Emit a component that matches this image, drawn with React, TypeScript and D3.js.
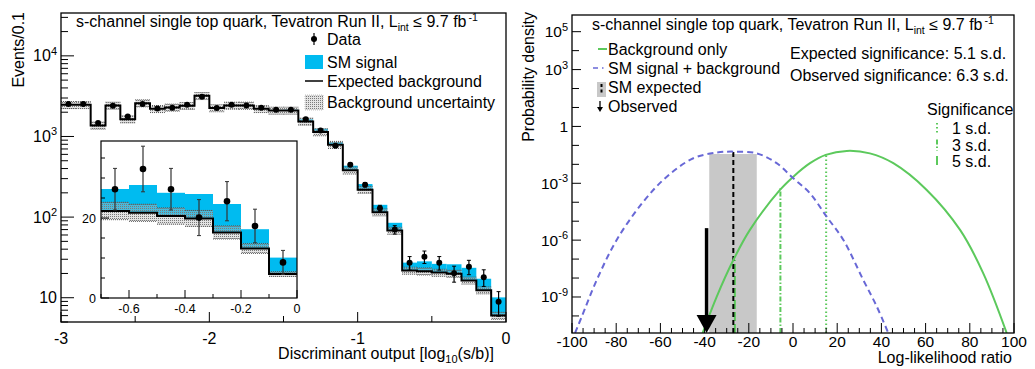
import React from 'react';
import * as d3 from 'd3';

// ---------------- Left panel data ----------------
const binLow = [-3.0, -2.9, -2.8, -2.7, -2.6, -2.5, -2.4, -2.3, -2.2, -2.1, -2.0, -1.9, -1.8, -1.7, -1.6, -1.5, -1.4, -1.3, -1.2, -1.1, -1.0, -0.9, -0.8, -0.7, -0.6, -0.5, -0.4, -0.3, -0.2, -0.1];
const binWidth = 0.1;
const bkg = [2466, 2466, 1370, 2420, 1640, 2590, 2200, 2290, 2400, 3190, 2250, 2420, 2420, 2200, 2100, 2100, 1535, 1133, 790, 380, 219, 115, 68, 21.75, 21.3, 20.5, 19.9, 16.4, 12.4, 6.0];
const sig = [8, 8, 5, 8, 6, 9, 9, 10, 12, 16, 14, 18, 22, 26, 35, 45, 97, 112, 60, 54, 38, 27, 17, 5.5, 6.95, 5.8, 6.1, 7.1, 4.8, 4.1];
const bkgUncFrac = [0.1, 0.1, 0.1, 0.1, 0.1, 0.1, 0.1, 0.1, 0.1, 0.1, 0.1, 0.1, 0.1, 0.1, 0.1, 0.1, 0.1, 0.1, 0.1, 0.1, 0.1, 0.1, 0.1, 0.1, 0.1, 0.1, 0.1, 0.1, 0.1, 0.1];
const dataObs = [2520, 2520, 1466, 2400, 1770, 2520, 2230, 2270, 2470, 3120, 2250, 2470, 2420, 2270, 2150, 2150, 1640, 1186, 770, 447, 252, 129, 70, 27.2, 32.25, 27.2, 20.1, 24.2, 18.0, 8.9];
const dataErr = [50, 50, 38, 49, 42, 50, 47, 48, 50, 56, 47, 50, 49, 48, 46, 46, 40, 34, 28, 21, 16, 11, 8.4, 5.2, 5.7, 5.2, 4.5, 4.9, 4.2, 3.0];

const mainXTicks = [-3, -2.5, -2, -1.5, -1, -0.5, 0];
const mainXLabels = [-3, -2, -1, 0];
const mainYLabels = [
  { v: 10, base: '10', exp: '' },
  { v: 100, base: '10', exp: '2' },
  { v: 1000, base: '10', exp: '3' },
  { v: 10000, base: '10', exp: '4' },
];
const insetXTicks = [-0.7, -0.6, -0.5, -0.4, -0.3, -0.2, -0.1, 0];
const insetXLabels = [-0.6, -0.4, -0.2, 0];
const insetYTicks = [0, 5, 10, 15, 20, 25, 30, 35];
const insetYLabels = [0, 20];

// ---------------- Right panel data ----------------
const bkgOnlyX = [-40.9, -34.5, -27, -19.5, -5.9, 0.15, 7.7, 14.8, 24.3, 34.8, 45.4, 60.5, 75.6, 86.1, 96.7];
const bkgOnlyY = [1.26e-11, 1.05e-9, 8.9e-8, 3.47e-6, 4.47e-4, 2.24e-3, 1.15e-2, 3.16e-2, 5.13e-2, 3.8e-2, 1.15e-2, 4.47e-4, 3.47e-6, 1.78e-8, 1.26e-11];
const sbX = [-98.6, -95.6, -88.8, -79.8, -67.7, -57.1, -45.1, -34.5, -27, -16.4, -7.4, 0.15, 7.7, 15.2, 22.8, 31.8, 37.9, 43.1];
const sbY = [1.26e-11, 9.1e-11, 7.9e-9, 1.02e-6, 1.07e-4, 2.24e-3, 2.09e-2, 4.17e-2, 4.68e-2, 3.8e-2, 1.15e-2, 1.82e-3, 2.95e-4, 1.74e-5, 1.02e-6, 7.9e-9, 3.16e-10, 1.26e-11];
const smExpectedMedian = -27.0;
const smExpectedBand = [-37.9, -16.4];
const smExpectedTop = 3.5e-2;
const medianTop = 5.7e-2;
const observedLLR = -39.1;
const observedTop = 4.3e-6;
const sigLineX = [15.0, -5.7, -26.3];
const sigLineTop = [3.16e-2, 5.5e-4, 8.9e-8];
const sigLabels = ['1 s.d.', '3 s.d.', '5 s.d.'];
const sigDash = ['1.5,2.5', '5,2,1.5,2', '9,3'];
const rightXTicks = d3.range(-100, 101, 5);
const rightXLabels = [-100, -80, -60, -40, -20, 0, 20, 40, 60, 80, 100];
const rightYDecades = [-10, -9, -8, -7, -6, -5, -4, -3, -2, -1, 0, 1, 2, 3, 4, 5];
const rightYLabels = [
  { e: 5, base: '10', exp: '5' },
  { e: 3, base: '10', exp: '3' },
  { e: 0, base: '1', exp: '' },
  { e: -3, base: '10', exp: '-3' },
  { e: -6, base: '10', exp: '-6' },
  { e: -9, base: '10', exp: '-9' },
];

const FONT = '"Liberation Sans", Arial, Helvetica, sans-serif';
const BLUE_FILL = '#00bbf0';
const GREEN = '#5cc95c';
const SBBLUE = '#6868d6';

export default function App() {
  // scales
  const xM = d3.scaleLinear().domain([-3, 0]).range([61, 506]);
  const yM = d3.scaleLog().domain([5, 34000]).range([322, 13]);
  const xI = d3.scaleLinear().domain([-0.7, 0]).range([101, 297]);
  const yI = d3.scaleLinear().domain([0, 39.25]).range([298, 141]);
  const xR = d3.scaleLinear().domain([-100, 100]).range([572, 1014]);
  const yR = d3.scaleLog().domain([Math.pow(10, -10.9), Math.pow(10, 5.88)]).range([333, 15]);

  const bins = binLow.map((lo, i) => ({
    lo, hi: lo + binWidth, b: bkg[i], s: sig[i], u: bkgUncFrac[i], d: dataObs[i], e: dataErr[i],
  }));

  const stepPts = (xs: any, ys: any, list: any[]) => {
    const pts: [number, number][] = [];
    list.forEach((bn) => {
      pts.push([xs(bn.lo), ys(bn.b)]);
      pts.push([xs(bn.hi), ys(bn.b)]);
    });
    return d3.line()(pts) as string;
  };

  // minor ticks for left log axis
  const mainYMinor: number[] = [];
  [1, 10, 100, 1000, 10000].forEach((dec) => {
    for (let k = 1; k <= 9; k++) {
      const v = dec * k;
      if (v >= 5 && v <= 34000) mainYMinor.push(v);
    }
  });

  const insetBins = bins.filter((bn) => bn.lo >= -0.75);

  const curvePath = (xs: number[], ys: number[]) =>
    d3.line<number>()
      .x((_, i) => xR(xs[i]))
      .y((v) => yR(v))
      .curve(d3.curveCatmullRom.alpha(0.5))(ys) as string;

  const txt = { fontFamily: FONT, fontSize: 16, fill: '#000' } as any;

  return (
    <svg width={1035} height={369} style={{ position: 'absolute', left: 0, top: 0, background: '#fff' }}>
      <defs>
        <pattern id="dots" width="2" height="2" patternUnits="userSpaceOnUse">
          <rect width="2" height="2" fill="rgba(185,185,185,0.4)" />
          <rect width="1" height="1" fill="#7a7a7a" />
        </pattern>
        <clipPath id="clipMain"><rect x={61} y={13} width={445} height={309} /></clipPath>
        <clipPath id="clipInset"><rect x={101} y={141} width={196} height={157} /></clipPath>
        <clipPath id="clipRight"><rect x={572} y={15} width={442} height={318} /></clipPath>
      </defs>
      <rect x={0} y={0} width={1035} height={369} fill="#fff" />

      {/* ================= LEFT PANEL ================= */}
      <g clipPath="url(#clipMain)">
        {bins.map((bn, i) => (
          <rect key={'s' + i} x={xM(bn.lo)} width={xM(bn.hi) - xM(bn.lo)}
            y={yM(bn.b + bn.s)} height={yM(bn.b) - yM(bn.b + bn.s)} fill={BLUE_FILL} />
        ))}
        {bins.map((bn, i) => (
          <g key={'u' + i}>
            <rect x={xM(bn.lo)} width={xM(bn.hi) - xM(bn.lo)}
              y={yM(bn.b * (1 + bn.u))} height={yM(bn.b * (1 - bn.u)) - yM(bn.b * (1 + bn.u))} fill="url(#dots)" />
            <line x1={xM(bn.lo)} x2={xM(bn.hi)} y1={yM(bn.b * (1 + bn.u))} y2={yM(bn.b * (1 + bn.u))} stroke="#555" strokeWidth={1} strokeDasharray="1,1" />
            <line x1={xM(bn.lo)} x2={xM(bn.hi)} y1={yM(bn.b * (1 - bn.u))} y2={yM(bn.b * (1 - bn.u))} stroke="#555" strokeWidth={1} strokeDasharray="1,1" />
          </g>
        ))}
        <path d={stepPts(xM, yM, bins)} fill="none" stroke="#000" strokeWidth={2} />
        {bins.map((bn, i) => {
          const cx = xM(bn.lo + binWidth / 2);
          return (
            <g key={'d' + i}>
              <line x1={cx} x2={cx} y1={yM(bn.d + bn.e)} y2={yM(Math.max(bn.d - bn.e, 5.01))} stroke="#000" strokeWidth={1.2} />
              <line x1={cx - 2} x2={cx + 2} y1={yM(bn.d + bn.e)} y2={yM(bn.d + bn.e)} stroke="#000" strokeWidth={1} />
              <line x1={cx - 2} x2={cx + 2} y1={yM(bn.d - bn.e)} y2={yM(bn.d - bn.e)} stroke="#000" strokeWidth={1} />
              <circle cx={cx} cy={yM(bn.d)} r={3} fill="#000" />
            </g>
          );
        })}
      </g>

      {/* left axes ticks */}
      {mainYMinor.map((v, i) => {
        const major = [10, 100, 1000, 10000].includes(v);
        return <line key={'ym' + i} x1={61} x2={61 + (major ? 13 : 7)} y1={yM(v)} y2={yM(v)} stroke="#000" strokeWidth={1} />;
      })}
      {mainXTicks.map((v, i) => {
        const major = Number.isInteger(v);
        return <line key={'xm' + i} x1={xM(v)} x2={xM(v)} y1={322} y2={322 - (major ? 10 : 6)} stroke="#000" strokeWidth={1} />;
      })}
      <rect x={61} y={13} width={445} height={309} fill="none" stroke="#000" strokeWidth={1.3} />
      {mainXLabels.map((v, i) => (
        <text key={'xl' + i} x={xM(v)} y={344} textAnchor="middle" {...txt}>{v}</text>
      ))}
      {mainYLabels.map((l, i) => (
        <text key={'yl' + i} x={57} y={yM(l.v) + 5.5} textAnchor="end" {...txt}>
          {l.base}{l.exp ? <tspan dy={-6.5} fontSize={11}>{l.exp}</tspan> : null}
        </text>
      ))}
      <text x={494} y={359} textAnchor="end" {...txt}>
        Discriminant output [log<tspan dy={4} fontSize={11}>10</tspan><tspan dy={-4}>(s/b)]</tspan>
      </text>
      <text transform="translate(24,12) rotate(-90)" textAnchor="end" {...txt}>Events/0.1</text>

      {/* left title & legend */}
      <text x={76} y={27} {...txt}>
        s-channel single top quark, Tevatron Run II, L<tspan dy={4} fontSize={10.5}>int</tspan><tspan dy={-4}> ≤ 9.7 fb</tspan><tspan dy={-6} dx={2} fontSize={10.5}>-1</tspan>
      </text>
      <line x1={314} x2={314} y1={33} y2={45} stroke="#000" strokeWidth={1.2} />
      <circle cx={314} cy={39} r={3} fill="#000" />
      <text x={327} y={44.5} {...txt}>Data</text>
      <rect x={305} y={55} width={18} height={14} fill={BLUE_FILL} />
      <text x={327} y={67.5} {...txt}>SM signal</text>
      <line x1={305} x2={323} y1={81} y2={81} stroke="#000" strokeWidth={1.5} />
      <text x={327} y={86.5} {...txt}>Expected background</text>
      <rect x={305} y={95} width={18} height={15} fill="url(#dots)" stroke="#999" strokeWidth={0.6} strokeDasharray="1,1" />
      <text x={327} y={108} {...txt}>Background uncertainty</text>

      {/* ================= INSET ================= */}
      <rect x={101} y={141} width={196} height={157} fill="#fff" />
      <g clipPath="url(#clipInset)">
        {insetBins.map((bn, i) => (
          <rect key={'is' + i} x={xI(bn.lo)} width={xI(bn.hi) - xI(bn.lo)}
            y={yI(bn.b + bn.s)} height={yI(bn.b) - yI(bn.b + bn.s)} fill={BLUE_FILL} />
        ))}
        {insetBins.map((bn, i) => (
          <g key={'iu' + i}>
            <rect x={xI(bn.lo)} width={xI(bn.hi) - xI(bn.lo)}
              y={yI(bn.b * (1 + bn.u))} height={yI(bn.b * (1 - bn.u)) - yI(bn.b * (1 + bn.u))} fill="url(#dots)" />
            <line x1={xI(bn.lo)} x2={xI(bn.hi)} y1={yI(bn.b * (1 + bn.u))} y2={yI(bn.b * (1 + bn.u))} stroke="#555" strokeWidth={1} strokeDasharray="1,1" />
            <line x1={xI(bn.lo)} x2={xI(bn.hi)} y1={yI(bn.b * (1 - bn.u))} y2={yI(bn.b * (1 - bn.u))} stroke="#555" strokeWidth={1} strokeDasharray="1,1" />
          </g>
        ))}
        <path d={stepPts(xI, yI, insetBins)} fill="none" stroke="#000" strokeWidth={2} />
        {insetBins.map((bn, i) => {
          const cx = xI(bn.lo + binWidth / 2);
          return (
            <g key={'id' + i}>
              <line x1={cx} x2={cx} y1={yI(bn.d + bn.e)} y2={yI(bn.d - bn.e)} stroke="#333" strokeWidth={1.2} />
              <line x1={cx - 2} x2={cx + 2} y1={yI(bn.d + bn.e)} y2={yI(bn.d + bn.e)} stroke="#333" strokeWidth={1} />
              <line x1={cx - 2} x2={cx + 2} y1={yI(bn.d - bn.e)} y2={yI(bn.d - bn.e)} stroke="#333" strokeWidth={1} />
              <circle cx={cx} cy={yI(bn.d)} r={3.3} fill="#000" />
            </g>
          );
        })}
      </g>
      {insetYTicks.map((v, i) => (
        <line key={'iyt' + i} x1={101} x2={101 + (insetYLabels.includes(v) ? 8 : 4)} y1={yI(v)} y2={yI(v)} stroke="#000" strokeWidth={1} />
      ))}
      {insetXTicks.map((v, i) => {
        const major = insetXLabels.some((l) => Math.abs(l - v) < 1e-9);
        return <line key={'ixt' + i} x1={xI(v)} x2={xI(v)} y1={298} y2={298 - (major ? 8 : 4)} stroke="#000" strokeWidth={1} />;
      })}
      <rect x={101} y={141} width={196} height={157} fill="none" stroke="#000" strokeWidth={1.2} />
      {insetYLabels.map((v, i) => (
        <text key={'iyl' + i} x={96} y={yI(v) + 4.5} textAnchor="end" {...txt} fontSize={12.5}>{v}</text>
      ))}
      {insetXLabels.map((v, i) => (
        <text key={'ixl' + i} x={xI(v)} y={312.5} textAnchor="middle" {...txt} fontSize={12.5}>{v}</text>
      ))}

      {/* ================= RIGHT PANEL ================= */}
      <g clipPath="url(#clipRight)">
        <rect x={xR(smExpectedBand[0])} width={xR(smExpectedBand[1]) - xR(smExpectedBand[0])}
          y={yR(smExpectedTop)} height={333 - yR(smExpectedTop)} fill="#c8c8c8" />
        {sigLineX.map((v, i) => (
          <line key={'sl' + i} x1={xR(v)} x2={xR(v)} y1={333} y2={yR(sigLineTop[i])} stroke={GREEN} strokeWidth={2} strokeDasharray={sigDash[i]} />
        ))}
        <line x1={xR(smExpectedMedian)} x2={xR(smExpectedMedian)} y1={333} y2={yR(medianTop)} stroke="#000" strokeWidth={2} strokeDasharray="5,3" />
        <path d={curvePath(bkgOnlyX, bkgOnlyY)} fill="none" stroke={GREEN} strokeWidth={2} />
        <path d={curvePath(sbX, sbY)} fill="none" stroke={SBBLUE} strokeWidth={2} strokeDasharray="6,4" />
        <line x1={xR(observedLLR)} x2={xR(observedLLR)} y1={yR(observedTop)} y2={318} stroke="#000" strokeWidth={3.5} />
        <path d={`M${xR(observedLLR) - 10},${315} L${xR(observedLLR) + 10},${315} L${xR(observedLLR)},${333} Z`} fill="#000" />
      </g>
      {rightYDecades.map((e, i) => {
        const lab = rightYLabels.some((l) => l.e === e);
        return <line key={'ryt' + i} x1={572} x2={572 + (lab ? 9 : 7)} y1={yR(Math.pow(10, e))} y2={yR(Math.pow(10, e))} stroke="#000" strokeWidth={1} />;
      })}
      {rightXTicks.map((v, i) => {
        const major = v % 20 === 0;
        return <line key={'rxt' + i} x1={xR(v)} x2={xR(v)} y1={333} y2={333 - (major ? 10 : 5)} stroke="#000" strokeWidth={1} />;
      })}
      <rect x={572} y={15} width={442} height={318} fill="none" stroke="#000" strokeWidth={1.3} />
      {rightXLabels.map((v, i) => (
        <text key={'rxl' + i} x={xR(v)} y={347} textAnchor="middle" {...txt} fontSize={15.5}>{v}</text>
      ))}
      {rightYLabels.map((l, i) => (
        <text key={'ryl' + i} x={568} y={yR(Math.pow(10, l.e)) + 5.5} textAnchor="end" {...txt} fontSize={15.5}>
          {l.base}{l.exp ? <tspan dy={-6.5} fontSize={11}>{l.exp}</tspan> : null}
        </text>
      ))}
      <text x={1012} y={363} textAnchor="end" {...txt}>Log-likelihood ratio</text>
      <text transform="translate(534,12) rotate(-90)" textAnchor="end" {...txt}>Probability density</text>

      {/* right title & legend */}
      <text x={592} y={30} {...txt}>
        s-channel single top quark, Tevatron Run II, L<tspan dy={4} fontSize={10.5}>int</tspan><tspan dy={-4}> ≤ 9.7 fb</tspan><tspan dy={-6} dx={2} fontSize={10.5}>-1</tspan>
      </text>
      <line x1={598} x2={607} y1={49} y2={49} stroke={GREEN} strokeWidth={2} />
      <text x={608} y={54.5} {...txt}>Background only</text>
      <line x1={593} x2={607} y1={68} y2={68} stroke={SBBLUE} strokeWidth={1.5} strokeDasharray="5,4,1.5,4" />
      <text x={608} y={73.5} {...txt}>SM signal + background</text>
      <rect x={597} y={82} width={9} height={15} fill="#c8c8c8" />
      <line x1={601.5} x2={601.5} y1={84} y2={95} stroke="#000" strokeWidth={2} strokeDasharray="3,2.5" />
      <text x={608} y={93} {...txt}>SM expected</text>
      <line x1={600} x2={600} y1={101} y2={108} stroke="#000" strokeWidth={1.3} />
      <path d="M597,107 L603,107 L600,112 Z" fill="#000" />
      <text x={608} y={112} {...txt}>Observed</text>

      <text x={790} y={58.5} {...txt}>Expected significance: 5.1 s.d.</text>
      <text x={790} y={80.5} {...txt}>Observed significance: 6.3 s.d.</text>
      <text x={927} y={115} {...txt}>Significance</text>
      {sigLabels.map((s, i) => (
        <g key={'sg' + i}>
          <line x1={937} x2={937} y1={123 + i * 16.5} y2={134 + i * 16.5} stroke={GREEN} strokeWidth={2} strokeDasharray={sigDash[i]} />
          <text x={952} y={134 + i * 16.5} {...txt}>{s}</text>
        </g>
      ))}
    </svg>
  );
}
